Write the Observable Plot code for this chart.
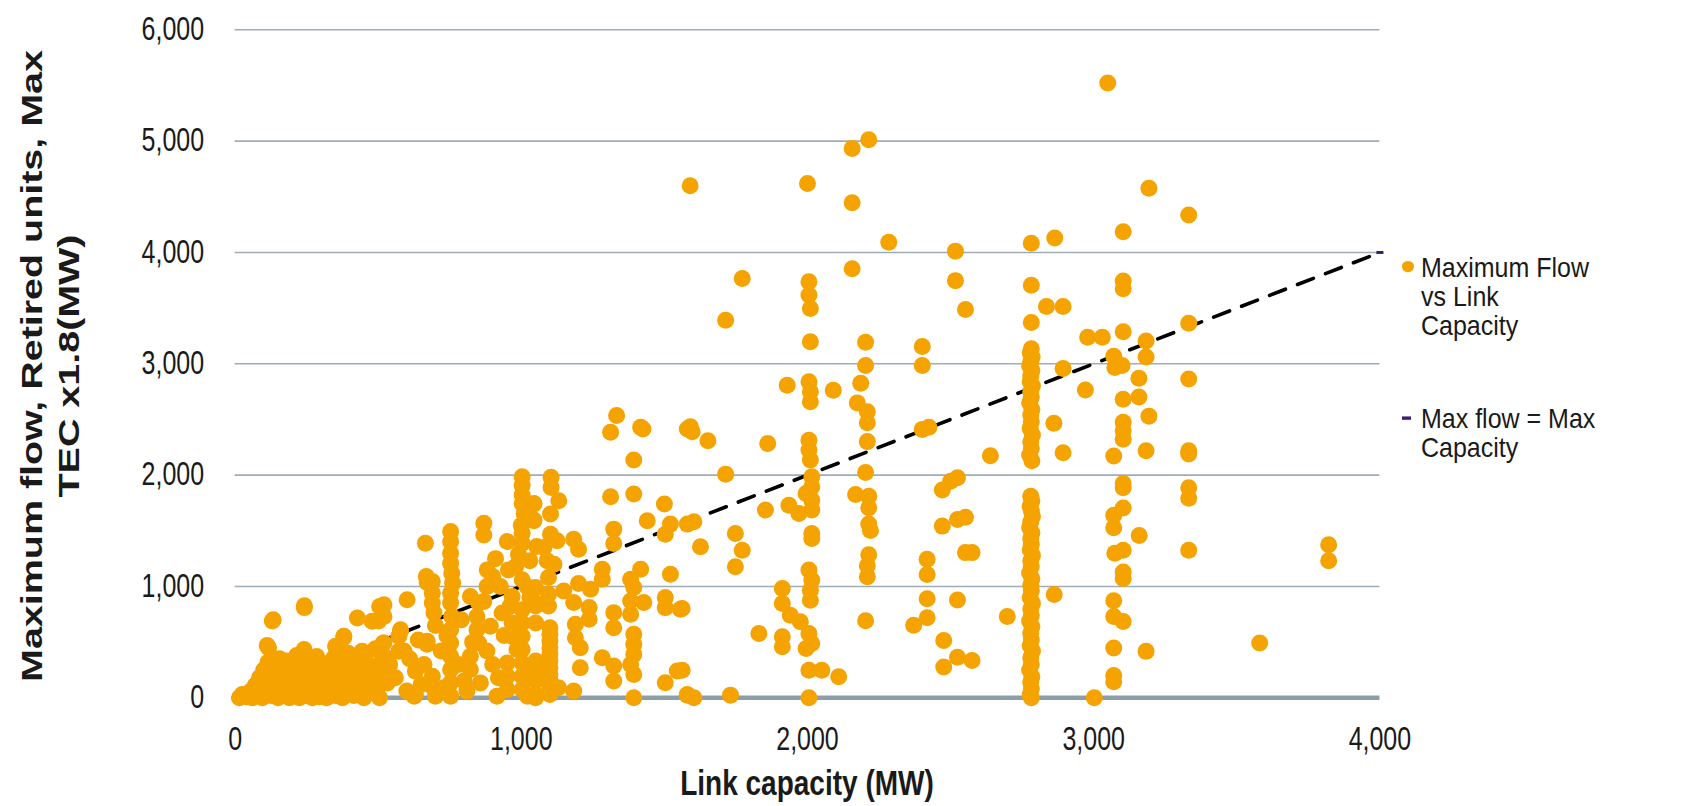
<!DOCTYPE html>
<html><head><meta charset="utf-8">
<script src="https://cdn.jsdelivr.net/npm/d3@7"></script>
<script src="https://cdn.jsdelivr.net/npm/@observablehq/plot@0.6"></script>
<style>
body{margin:0;background:#fff;}
#wrap{position:relative;width:1703px;height:806px;font-family:"Liberation Sans",Arial,sans-serif;color:#1a1a1a;}
#ytitle{position:absolute;left:51px;top:366px;width:720px;transform:translate(-50%,-50%) rotate(-90deg) scaleX(1.36);text-align:center;font:bold 29px "Liberation Sans",Arial,sans-serif;line-height:37px;}
#xtitle{position:absolute;left:807px;top:784px;transform:translate(-50%,-50%) scaleY(1.25);white-space:nowrap;font:bold 28px "Liberation Sans",Arial,sans-serif;}
.leg{position:absolute;left:1421px;font-size:25px;line-height:26px;transform:scaleY(1.12);transform-origin:0 0;white-space:nowrap;}
.sw1{position:absolute;left:-19px;top:7.5px;width:12px;height:10.7px;border-radius:50%;background:#F5A300;}
.sw2{position:absolute;left:-19px;top:11.5px;width:9px;height:3px;background:#3b1e6e;}
</style></head><body>
<div id="wrap"></div>
<script>
// ---- data: [link capacity MW, maximum flow MW] ----
const blobPoints = [[15,0],[25,30],[40,10],[55,60],[60,0],[70,110],[80,40],[85,180],[95,0],[100,250],[105,90],[115,320],[120,150],[125,20],[135,280],[140,60],[145,200],[150,0],[155,350],[160,120],[170,260],[175,40],[180,330],[185,170],[190,0],[195,90],[200,300],[205,220],[210,30],[215,380],[220,140],[225,0],[230,270],[235,80],[240,190],[245,340],[250,20],[255,120],[260,300],[265,230],[270,0],[275,160],[280,60],[285,370],[290,250],[295,10],[300,130],[305,310],[310,200],[315,50],[320,0],[325,280],[330,150],[340,90],[345,360],[350,20],[355,230],[365,120],[370,310],[375,0],[385,190],[390,60],[395,400],[400,270],[410,140],[415,20],[425,330],[430,80],[440,220],[450,0],[455,380],[460,150],[470,290],[475,50],[485,200],[490,440],[500,100],[505,0],[510,260],[515,360],[520,160],
[242,827],[133,702],[112,469],[241,433],[380,552],[351,463],[427,716],[479,687],[505,821],[518,493],[444,418],[130,690],[117,450],[242,810],[379,540]];
const lowPoints = [[1003,1985],[1003,1910],[1003,1821],[1003,1746],[1044,1746],[1044,1597],[869,1567],[869,1463],[753,1493],[753,1403],[665,1388],[951,1403],[1003,1478],[1003,1388],[1054,1358],[753,1299],[753,1209],[757,1119],[760,1030],[881,1149],[900,1090],[955,1149],[1003,1060],[1020,1000],[689,1045],[689,940],[689,851],[695,761],[601,881],[520,836],[520,731],[578,612],[572,552],[671,507],[520,493],[520,373],[572,418],[520,254],[532,134],[630,239],[626,15],[689,194],[689,104],[700,15],[753,940],[753,851],[757,731],[753,612],[753,493],[753,373],[753,254],[753,134],[753,15],[822,910],[851,851],[845,731],[845,612],[851,493],[822,373],[822,254],[857,134],[810,60],[869,866],[892,642],[933,761],[968,910],[927,1000],[968,672],[968,552],[985,433],[951,313],[951,194],[951,75],[1003,791],[1003,672],[1003,552],[1003,433],[1003,313],[1003,194],[1003,75],[1050,851],[1050,672],[1050,254],[915,15],[1022,15],
[671,1035],[671,480],[630,30],[578,600],[501,690],[668,1090],[540,300],[560,180],[590,420],[600,60],[610,350],[640,520],[650,120],[660,300],[700,650],[720,420],[730,90],[740,560],[780,300],[790,700],[800,150],[830,500],[880,420],[900,300],[920,180],[940,560],[960,820],[980,1180],[990,1290],[1000,1550],[1010,1650],[880,1000],[910,1250],[1030,1230],[1030,900]];
const midPoints = [[1333,2535],[1312,2385],[1417,2430],[1425,2415],[1580,2415],[1393,2136],[1312,1806],[1393,1830],[1500,1740],[1440,1590],[1521,1560],[1503,1470],[1580,1560],[1323,1515],[1323,1386],[1104,1980],[1104,1890],[1131,1770],[1102,1650],[1044,1740],[1044,1590],[1102,1470],[1125,1410],[1183,1425],[1200,1335],[1079,1350],[1090,1230],[1114,1200],[1283,1155],[1283,1065],[1417,1155],[1382,1065],[1393,990],[1521,1110],[1200,1026],[1242,975],[1095,1080],[1050,990],[1095,930],[1050,825],[1095,825],[1148,960],[1183,855],[1237,810],[1237,705],[1189,660],[1189,540],[1206,450],[1206,270],[1323,765],[1323,630],[1382,870],[1428,855],[1382,750],[1503,900],[1503,810],[1556,795],[1393,570],[1393,480],[1393,390],[1382,300],[1393,210],[1393,0],[1283,360],[1323,285],[1323,150],[1100,630],[1100,570],[1100,510],[1100,450],[1100,390],[1100,330],[1100,270],[1100,210],[1100,150],[1100,90],[1100,30],[1050,330],[1050,150],[1050,30],[1183,60],[1130,90],[1503,135],[1545,240],[1580,30],[1050,0]];
const upperPoints = [[1590,4600],[2000,4620],[1772,3766],[1714,3392],[2005,3737],[2005,3617],[2010,3497],[2010,3198],[1929,2808],[2005,2838],[2010,2748],[2010,2659],[2090,2763],[1591,2434],[1597,2389],[1652,2308],[1861,2284],[1714,2009],[2005,2314],[2005,2225],[2010,2135],[2015,1985],[2015,1895],[2005,1835],[2015,1775],[2015,1686],[1995,1835],[1935,1730],[1970,1656],[1853,1686],[1603,1581],[1626,1356],[1748,1476],[1772,1326],[1748,1177],[2015,1476],[2015,1431],[2005,1147],[2015,1057],[2010,967],[2010,877],[1912,982],[1912,847],[1940,742],[1975,683],[2005,578],[2015,488],[1995,443],[1912,548],[1912,458],[1830,578],[2005,248],[2050,248],[2109,189],[1562,802],[1562,248],[1580,24],[1603,0],[1731,24],[2005,0]];
const highPoints = [[2214,5012],[2156,4933],[2156,4447],[2284,4091],[2156,3854],[2517,4012],[2517,3747],[2552,3487],[2203,3194],[2203,2985],[2401,3155],[2401,2985],[2186,2826],[2174,2649],[2209,2570],[2209,2471],[2209,2301],[2203,2024],[2168,1826],[2214,1810],[2214,1708],[2214,1561],[2220,1502],[2214,1285],[2209,1186],[2209,1087],[2203,692],[2401,2411],[2424,2431],[2639,2174],[2471,1866],[2500,1945],[2524,1977],[2471,1542],[2524,1601],[2552,1621],[2552,1304],[2575,1304],[2418,1245],[2418,1107],[2418,889],[2524,878],[2418,719],[2371,652],[2476,514],[2476,277],[2524,364],[2575,336],[2698,731]];
const column2780 = [[2782,3136],[2778,3100],[2785,3060],[2780,3020],[2776,2980],[2784,2940],[2780,2890],[2778,2840],[2786,2800],[2780,2750],[2782,2700],[2776,2650],[2784,2590],[2780,2540],[2782,2480],[2778,2420],[2786,2360],[2780,2300],[2782,2240],[2776,2180],[2784,2130],
[2780,1810],[2784,1770],[2778,1720],[2782,1680],[2786,1630],[2780,1580],[2776,1530],[2784,1480],[2780,1430],[2782,1380],[2778,1330],[2786,1280],[2780,1230],[2782,1180],[2776,1120],[2784,1070],[2780,1010],[2782,960],[2778,900],[2786,850],[2780,800],[2782,740],[2776,690],[2784,640],[2780,580],[2782,520],[2778,470],[2786,420],[2780,360],[2782,300],[2776,250],[2784,190],[2780,140],[2782,80],[2778,30],[2782,0]];
const rightPoints = [[3049,5523],[3193,4576],[3332,4337],[3103,4186],[2782,4083],[2864,4129],[2782,3705],[3103,3743],[3103,3674],[2835,3515],[2893,3515],[2782,3371],[3332,3364],[2979,3239],[3030,3239],[3103,3288],[3183,3205],[3183,3061],[3070,3068],[3099,2985],[3074,2966],[2893,2958],[2971,2765],[3158,2871],[3158,2701],[3332,2864],[3103,2682],[2861,2466],[3193,2530],[3103,2474],[3103,2398],[3103,2322],[2893,2201],[3070,2171],[3183,2220],[3332,2220],[3332,2190],[3103,1924],[3103,1886],[3103,1705],[3070,1640],[3070,1527],[3159,1458],[3332,1886],[3332,1792],[3332,1326],[3074,1299],[3103,1326],[3103,1129],[3103,1072],[2862,928],[3070,871],[3070,731],[3103,686],[3070,447],[3183,417],[3070,201],[3070,144],[3002,0],[3580,492],[3821,1375],[3821,1231]];
const refLineCapacity = [0, 4000];
const refLineFlow = [0, 4000];
const xTicks = [0, 1000, 2000, 3000, 4000];
const yTicks = [0, 1000, 2000, 3000, 4000, 5000, 6000];
const xTitle = "Link capacity (MW)";
const yTitleLines = ["Maximum flow, Retired units, Max", "TEC x1.8(MW)"];
const legendLines1 = ["Maximum Flow", "vs Link", "Capacity"];
const legendLines2 = ["Max flow = Max", "Capacity"];

const points = [...blobPoints, ...lowPoints, ...midPoints, ...upperPoints, ...highPoints, ...column2780, ...rightPoints]
  .map(([x, y]) => ({x, y}));
const refLine = refLineCapacity.map((x, i) => ({x, y: refLineFlow[i]}));

const dashSymbol = {draw(ctx, size){ const w = Math.sqrt(size) / 2; ctx.moveTo(-w, 0); ctx.lineTo(w, 0); }};

const chart = Plot.plot({
  width: 1703, height: 806,
  marginLeft: 234.6, marginRight: 323.6, marginTop: 29.3, marginBottom: 108.7,
  style: {fontFamily: '"Liberation Sans", Arial, sans-serif', fontSize: "25px", color: "#1a1a1a", background: "transparent"},
  x: {domain: [0, 4000]},
  y: {domain: [0, 6000]},
  marks: [
    Plot.gridY(yTicks, {stroke: "#9eadb7", strokeOpacity: 1, strokeWidth: 1.6}),
    Plot.ruleY([0], {stroke: "#8c9fa9", strokeWidth: 4.5}),
    Plot.axisX(xTicks, {tickSize: 0, tickPadding: 29, tickFormat: d3.format(","), label: null, fontSize: 25}),
    Plot.axisY(yTicks, {tickSize: 0, tickPadding: 31, tickFormat: d3.format(","), label: null, fontSize: 25}),
    Plot.line(refLine, {x: "x", y: "y", stroke: "black", strokeWidth: 3.6, strokeDasharray: "17,13"}),
    Plot.dot(refLine, {x: "x", y: "y", symbol: dashSymbol, r: 4, stroke: "#3b1e6e", strokeWidth: 3}),
    Plot.dot(points, {x: "x", y: "y", r: 8.5, fill: "#F5A300"})
  ]
});
const wrap = document.getElementById("wrap");
wrap.appendChild(chart);
chart.style.position = "absolute"; chart.style.left = "0"; chart.style.top = "0";

// stretch axis tick labels vertically, like the reference's tall glyphs
const num = v => { const n = parseFloat(v); return Number.isFinite(n) ? n : 0; };
chart.querySelectorAll('g[aria-label="x-axis tick label"] text, g[aria-label="y-axis tick label"] text').forEach(t => {
  let e = 0, f = 0;
  const c = t.transform && t.transform.baseVal && t.transform.baseVal.consolidate();
  if (c) { e = c.matrix.e; f = c.matrix.f; }
  const x = num(t.getAttribute("x")), y = num(t.getAttribute("y"));
  t.setAttribute("transform", `translate(${e + x},${f + y}) scale(1,1.3) translate(${-x},${-y})`);
});

const yt = document.createElement("div"); yt.id = "ytitle";
yt.innerHTML = yTitleLines.join("<br>"); wrap.appendChild(yt);
const xt = document.createElement("div"); xt.id = "xtitle"; xt.textContent = xTitle; wrap.appendChild(xt);

const l1 = document.createElement("div"); l1.className = "leg"; l1.style.top = "252px";
l1.innerHTML = '<span class="sw1"></span>' + legendLines1.join("<br>"); wrap.appendChild(l1);
const l2 = document.createElement("div"); l2.className = "leg"; l2.style.top = "403px";
l2.innerHTML = '<span class="sw2"></span>' + legendLines2.join("<br>"); wrap.appendChild(l2);
</script>
</body></html>
